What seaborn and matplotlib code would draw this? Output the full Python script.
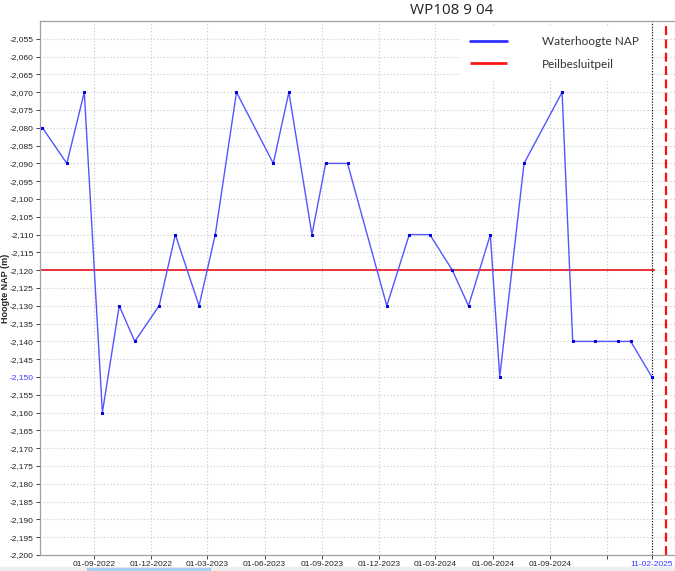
import pandas as pd
import numpy as np
import matplotlib
matplotlib.use('Agg')
import matplotlib.pyplot as plt
from matplotlib.ticker import FuncFormatter
from matplotlib.patches import Rectangle
import seaborn as sns

# Meetdata waterhoogte (m NAP)
datums = ['2022-06-10', '2022-07-19', '2022-08-16', '2022-09-14', '2022-10-11', '2022-11-05',
          '2022-12-14', '2023-01-09', '2023-02-16', '2023-03-14', '2023-04-17', '2023-06-15',
          '2023-07-10', '2023-08-16', '2023-09-07', '2023-10-12', '2023-12-14', '2024-01-19',
          '2024-02-21', '2024-03-28', '2024-04-23', '2024-05-28', '2024-06-12', '2024-07-21',
          '2024-09-20', '2024-10-07', '2024-11-11', '2024-12-19', '2025-01-08', '2025-02-11']
waterhoogte = [-2.080, -2.090, -2.070, -2.160, -2.130, -2.140,
               -2.130, -2.110, -2.130, -2.110, -2.070, -2.090,
               -2.070, -2.110, -2.090, -2.090, -2.130, -2.110,
               -2.110, -2.120, -2.130, -2.110, -2.150, -2.090,
               -2.070, -2.140, -2.140, -2.140, -2.140, -2.150]

peilbesluitpeil = -2.120
peil_van, peil_tot = '2022-06-06', '2025-02-16'

laatste_meting = '2025-02-11'
markering = '2025-03-05'

x_ticks = ['2022-09-01', '2022-12-01', '2023-03-01', '2023-06-01', '2023-09-01',
           '2023-12-01', '2024-03-01', '2024-06-01', '2024-09-01', '2024-12-01', '2025-02-11']
x_labels = ['01-09-2022', '01-12-2022', '01-03-2023', '01-06-2023', '01-09-2023',
            '01-12-2023', '01-03-2024', '01-06-2024', '01-09-2024', '', '11-02-2025']

df = pd.DataFrame({'Datum': pd.to_datetime(datums), 'Waterhoogte': waterhoogte})

sns.set_style('white')
plt.rcParams['font.family'] = ['Liberation Sans', 'DejaVu Sans']
plt.rcParams['axes.unicode_minus'] = False

fig = plt.figure(figsize=(6.75, 5.71), dpi=100)
ax = fig.add_axes([40 / 675, 1 - 555 / 571, 635 / 675, (555 - 21) / 571])

sns.lineplot(data=df, x='Datum', y='Waterhoogte', ax=ax, color='#5555ff', linewidth=1.0,
             marker='s', markersize=1.8, markerfacecolor='#0000dd', markeredgecolor='#0000dd',
             label='Waterhoogte NAP', zorder=3)
ax.hlines(peilbesluitpeil, pd.Timestamp(peil_van), pd.Timestamp(peil_tot), color='#e8141c',
          linewidth=1.2, label='Peilbesluitpeil', zorder=2)
ax.axvline(pd.Timestamp(laatste_meting), color='black', linestyle=(0, (1, 1.5)), linewidth=0.8)
ax.axvline(pd.Timestamp(markering), color='#ff1010', linestyle=(0, (4, 2)), linewidth=1.6)

ax.set_xlim(pd.Timestamp('2022-06-06'), pd.Timestamp('2025-03-20'))
ax.set_ylim(-2.200, -2.050)
ax.set_yticks(np.arange(-2.200, -2.0525, 0.005))
ax.yaxis.set_major_formatter(FuncFormatter(lambda v, p: f'{v:.3f}'.replace('.', ',')))
ax.set_xticks(pd.to_datetime(x_ticks))
ax.set_xticklabels(x_labels)

ax.grid(True, color='#c8c8c8', linestyle=(0, (1, 2)), linewidth=0.8)
ax.tick_params(axis='both', labelsize=6, colors='#222222', length=3, width=0.6, pad=1.5,
               direction='out', bottom=True, left=True)
for lbl in ax.get_yticklabels():
    if lbl.get_text() == '-2,150':
        lbl.set_color('#3a3aff')
for lbl in ax.get_xticklabels():
    if lbl.get_text() == '11-02-2025':
        lbl.set_color('#3a3aff')

for s in ['left', 'bottom', 'top']:
    ax.spines[s].set_color('#a0a0a0')
    ax.spines[s].set_linewidth(0.9)
ax.spines['right'].set_visible(False)

ax.set_xlabel('')
ax.set_ylabel('Hoogte NAP (m)', fontsize=6.5, fontweight='bold')
ax.yaxis.set_label_coords(-0.048, 0.5)

# legenda met witte achtergrond
leg = ax.legend(loc='upper left', bbox_to_anchor=(455 / 675, 1 - 21 / 571), bbox_transform=fig.transFigure,
                frameon=True, fancybox=False, framealpha=1, edgecolor='white',
                prop={'family': 'Lato', 'size': 8.5},
                handlelength=3.1, handletextpad=3.0, labelspacing=0.95, borderpad=0.8)
for h in leg.get_lines():
    h.set_linewidth(2.0)
    h.set_marker('')
leg.get_lines()[0].set_color('#3030ff')
leg.get_lines()[1].set_color('#ff1a1a')
for t in leg.get_texts():
    t.set_color('#333333')

fig.text(452 / 675, 1 - 11 / 571, 'WP108 9 04', ha='center', va='center', fontsize=11,
         family='Open Sans', color='#222222')

# schuifbalk onderaan
fig.patches.append(Rectangle((0, 0), 1, 4 / 571, transform=fig.transFigure, color='#eeeeee', zorder=0))
fig.patches.append(Rectangle((87 / 675, 1 / 571), 123 / 675, 2 / 571, transform=fig.transFigure,
                             color='#a8cff0', zorder=1))

fig.savefig('out.png', dpi=100)
